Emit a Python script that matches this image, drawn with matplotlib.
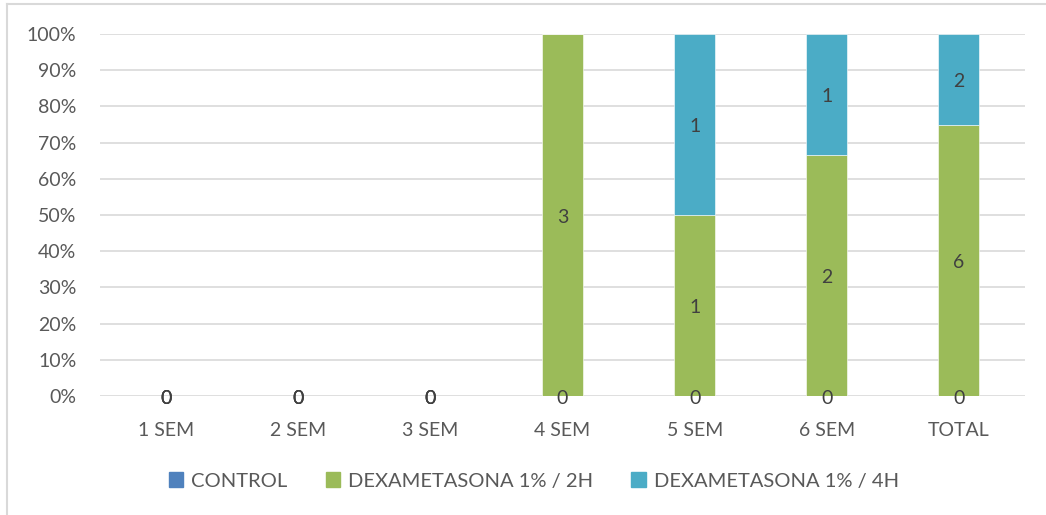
import numpy as np
import matplotlib.pyplot as plt
from matplotlib.lines import Line2D
from matplotlib.ticker import PercentFormatter

categories = ["1 SEM", "2 SEM", "3 SEM", "4 SEM", "5 SEM", "6 SEM", "TOTAL"]
series_names = ["CONTROL", "DEXAMETASONA 1% / 2H", "DEXAMETASONA 1% / 4H"]
control = [0, 0, 0, 0, 0, 0, 0]
dexa_2h = [0, 0, 0, 3, 1, 2, 6]
dexa_4h = [0, 0, 0, None, 1, 1, 2]   # no count recorded for 4 SEM
colors = ["#4F81BD", "#9BBB59", "#4BACC6"]

plt.rcParams["font.family"] = ["Lato", "DejaVu Sans"]

counts = np.array([[np.nan if v is None else v for v in s]
                   for s in (control, dexa_2h, dexa_4h)], dtype=float)
filled = np.nan_to_num(counts)
totals = filled.sum(axis=0)
safe = np.where(totals > 0, totals, 1)
shares = filled / safe

fig = plt.figure(figsize=(10.46, 5.15), dpi=100)
ax = fig.add_axes([100 / 1046, 1 - 396 / 515, 925 / 1046, 362 / 515])

x = np.arange(len(categories))
bottom = np.zeros(len(categories))
for i, name in enumerate(series_names):
    ax.bar(x, shares[i], 0.31, bottom=bottom, color=colors[i],
           edgecolor="#ffffff", linewidth=0.4, label=name, zorder=2)
    for j in range(len(categories)):
        if np.isnan(counts[i, j]):
            continue
        ax.text(x[j], bottom[j] + shares[i, j] / 2 - 0.006, f"{int(counts[i, j])}",
                ha="center", va="center", fontsize=14, color="#404040", zorder=3,
                clip_on=False)
    bottom += shares[i]

ax.set_xlim(-0.5, len(categories) - 0.5)
ax.set_ylim(0, 1)
ax.set_yticks(np.linspace(0, 1, 11))
ax.yaxis.set_major_formatter(PercentFormatter(1.0, decimals=0))
ax.set_xticks(x)
ax.set_xticklabels(categories)
ax.tick_params(length=0, labelsize=14, colors="#595959")
ax.tick_params(axis="x", pad=19)
ax.tick_params(axis="y", pad=17)
ax.grid(axis="y", color="#D9D9D9", linewidth=1.2, zorder=0)
ax.set_axisbelow(True)
for sp in ax.spines.values():
    sp.set_visible(False)

handles = [plt.Rectangle((0, 0), 1, 1, color=c) for c in colors]
fig.legend(handles, series_names, loc="center", bbox_to_anchor=(534 / 1046, 1 - 481 / 515),
           ncol=3, frameon=False, fontsize=14.5, labelcolor="#595959",
           handlelength=0.7, handleheight=0.7, handletextpad=0.4, columnspacing=1.9)

# light frame around the chart area
fig.add_artist(Line2D([7 / 1046, 7 / 1046], [0, 1 - 4 / 515], color="#D9D9D9", linewidth=1.5))
fig.add_artist(Line2D([7 / 1046, 1], [1 - 4 / 515, 1 - 4 / 515], color="#D9D9D9", linewidth=1.5))

fig.savefig("out.png", dpi=100)
